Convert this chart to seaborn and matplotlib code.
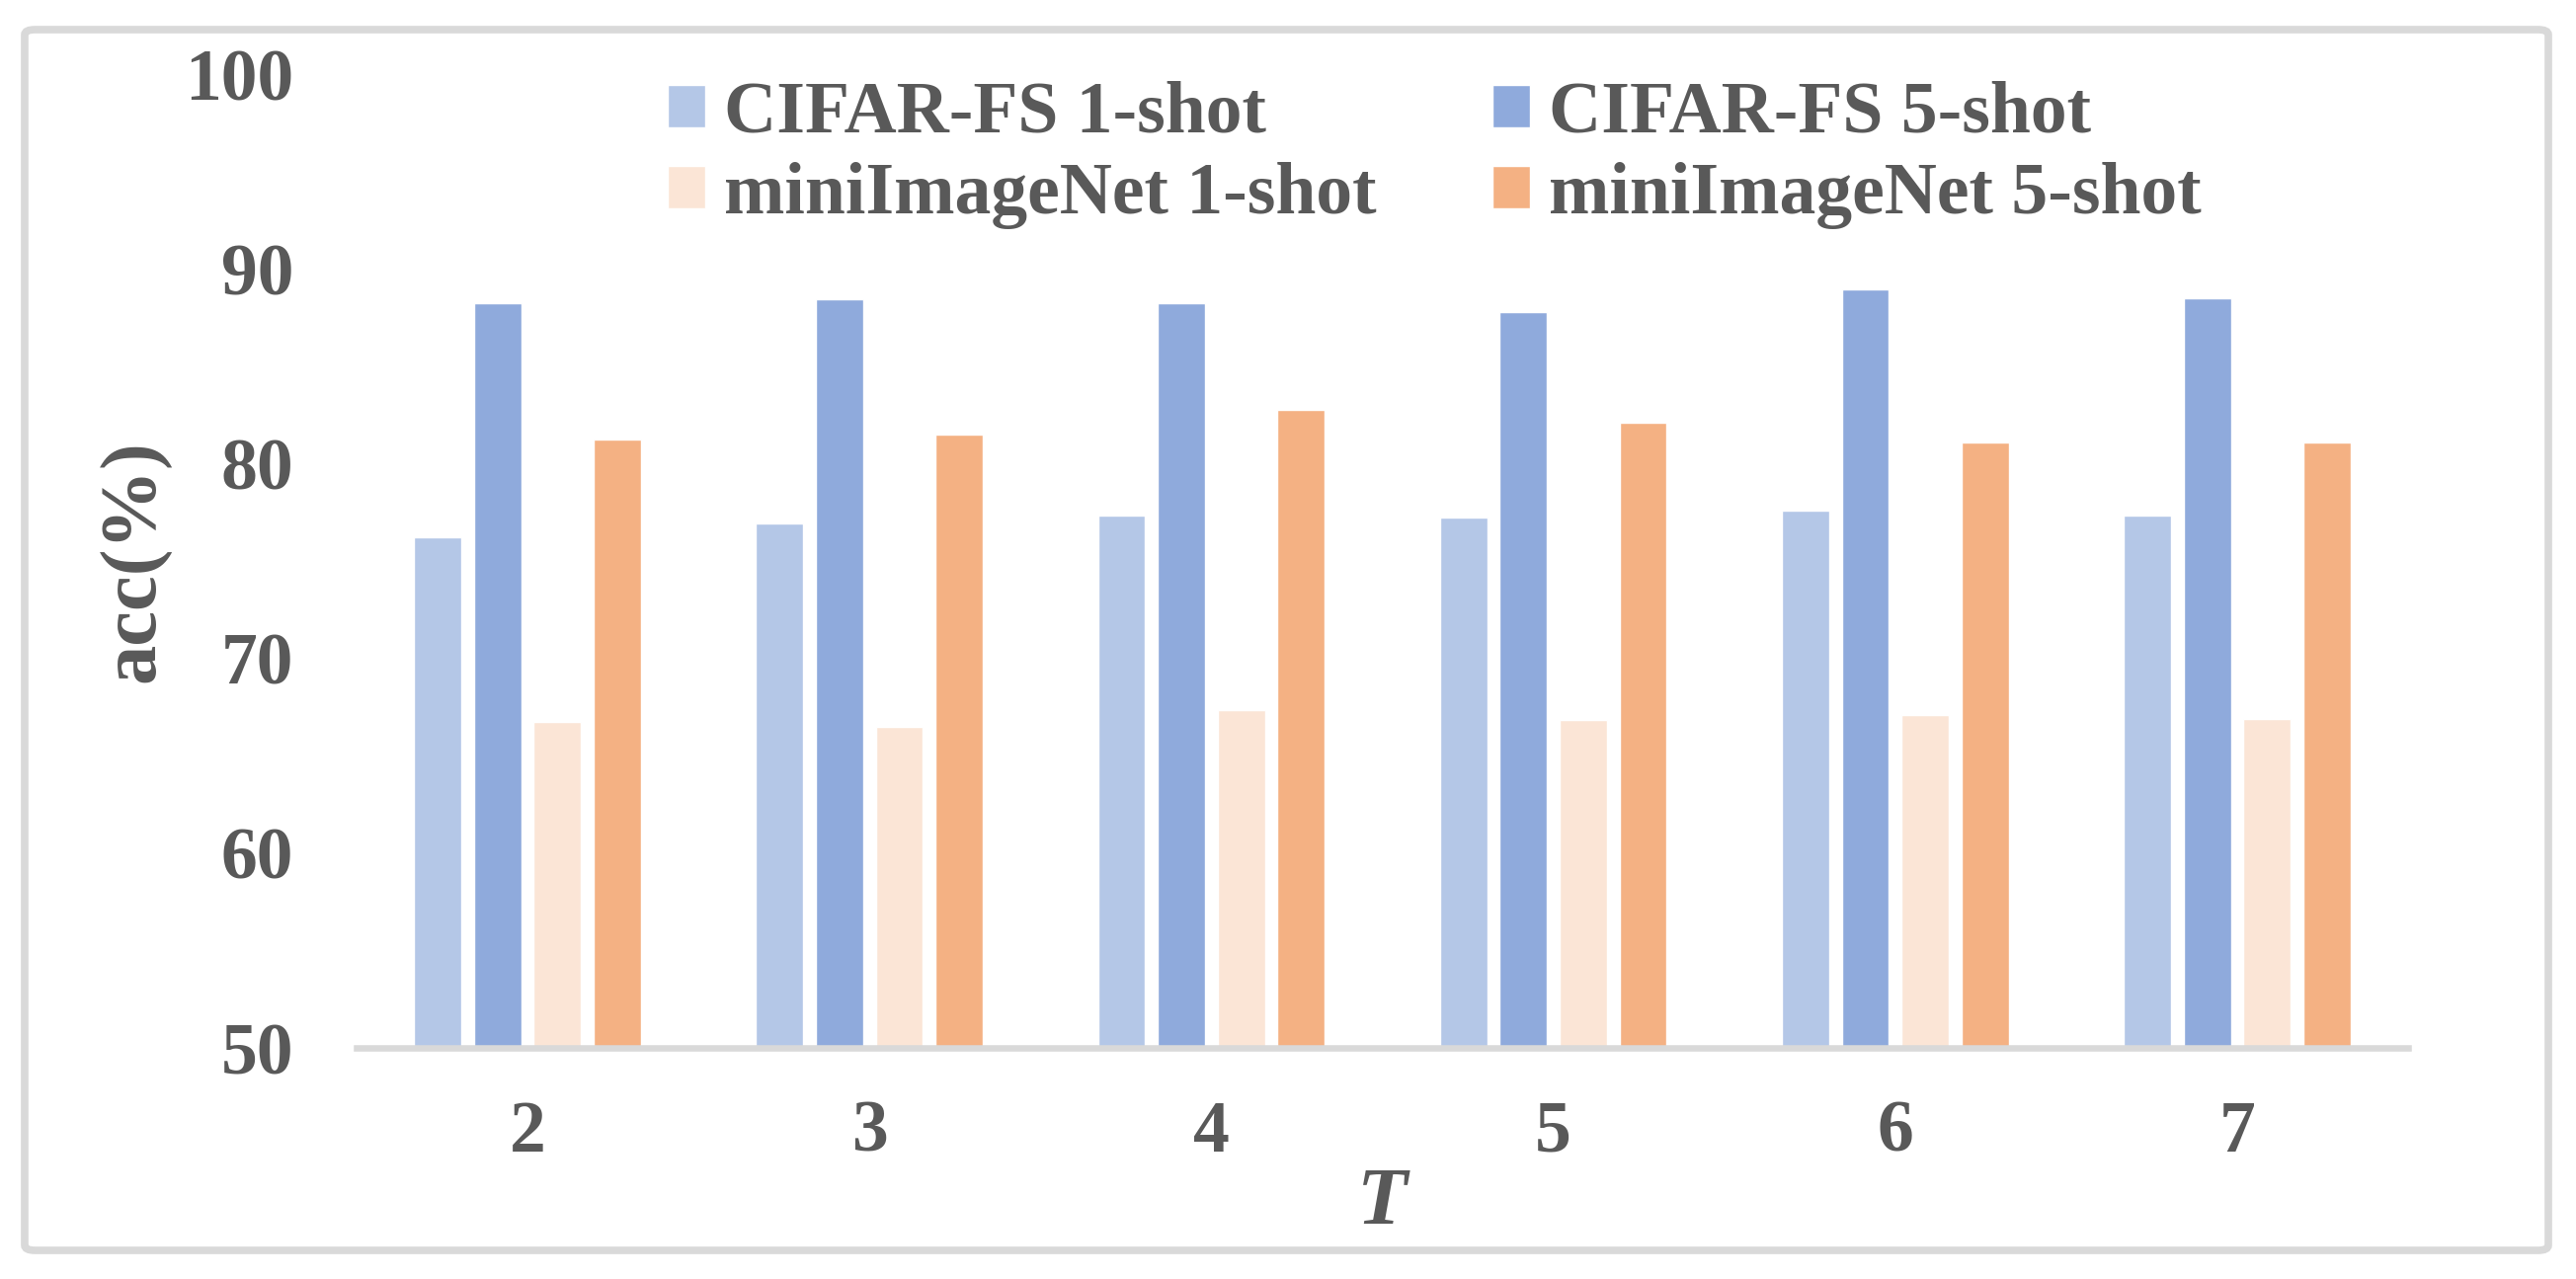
import matplotlib
matplotlib.use("Agg")
import matplotlib.pyplot as plt
import seaborn as sns
import pandas as pd
from matplotlib.patches import FancyBboxPatch

# ---- data ----
T_values = ["2", "3", "4", "5", "6", "7"]
series_names = ["CIFAR-FS 1-shot", "CIFAR-FS 5-shot", "miniImageNet 1-shot", "miniImageNet 5-shot"]
cifar_1shot = [76.23, 76.94, 77.34, 77.24, 77.60, 77.34]
cifar_5shot = [88.23, 88.43, 88.23, 87.77, 88.94, 88.48]
mini_1shot = [66.71, 66.46, 67.32, 66.86, 67.10, 66.90]
mini_5shot = [81.24, 81.49, 82.76, 82.10, 81.09, 81.09]
y_ticks = [50, 60, 70, 80, 90, 100]

colors = ["#B4C7E7", "#8FAADC", "#FBE5D6", "#F4B183"]
text_color = "#595959"
frame_color = "#D9D9D9"

rows = []
for name, vals in zip(series_names, [cifar_1shot, cifar_5shot, mini_1shot, mini_5shot]):
    for t, v in zip(T_values, vals):
        rows.append({"T": t, "acc": v, "setting": name})
df = pd.DataFrame(rows)

sns.set_style("white")
plt.rcParams["font.family"] = ["Liberation Serif", "DejaVu Serif"]
plt.rcParams["font.weight"] = "bold"

W, H = 2608, 1295
fig = plt.figure(figsize=(W / 100, H / 100), dpi=100)
ax = fig.add_axes([361 / W, 1 - 1061 / H, (2438 - 361) / W, (1061 - 75) / H])

sns.barplot(data=df, x="T", y="acc", hue="setting", order=T_values,
            hue_order=series_names, palette=colors, width=0.70, gap=0.21,
            errorbar=None, saturation=1, ax=ax, legend=True)

ax.set_ylim(50, 100)
ax.set_yticks(y_ticks)
ax.set_xlim(-0.5, len(T_values) - 0.5)
for s in ["left", "right", "top"]:
    ax.spines[s].set_visible(False)
ax.spines["bottom"].set_color(frame_color)
ax.spines["bottom"].set_linewidth(4.7)
ax.tick_params(axis="y", length=0, pad=46, labelsize=53, labelcolor=text_color)
ax.tick_params(axis="x", length=0, pad=38, labelsize=53, labelcolor=text_color)
for lab in ax.get_xticklabels() + ax.get_yticklabels():
    lab.set_fontweight("bold")

ax.set_xlabel("T", fontsize=60, fontstyle="italic", fontweight="bold", color=text_color, labelpad=0)
ax.set_ylabel("acc(%)", fontsize=58, fontweight="bold", color=text_color, labelpad=10)

handles, labels = ax.get_legend_handles_labels()
ax.get_legend().remove()
order = [0, 2, 1, 3]
leg = fig.legend([handles[i] for i in order], [labels[i] for i in order],
                 ncol=2, loc="upper left", bbox_to_anchor=(676 / W, 1 - 82 / H),
                 frameon=False, borderpad=0, borderaxespad=0,
                 handlelength=0.52, handleheight=0.52, handletextpad=0.25,
                 columnspacing=1.6, labelspacing=0.19,
                 prop={"family": "Liberation Serif", "weight": "bold", "size": 53})
for t in leg.get_texts():
    t.set_color(text_color)

frame = FancyBboxPatch((25 / W, 1 - 1266 / H), (2580 - 25) / W, (1266 - 30) / H,
                       boxstyle="round,pad=0,rounding_size=0.004",
                       transform=fig.transFigure, fill=False,
                       edgecolor=frame_color, linewidth=5.5, zorder=0)
fig.patches.append(frame)

fig.savefig("out.png", dpi=100, facecolor="white")
